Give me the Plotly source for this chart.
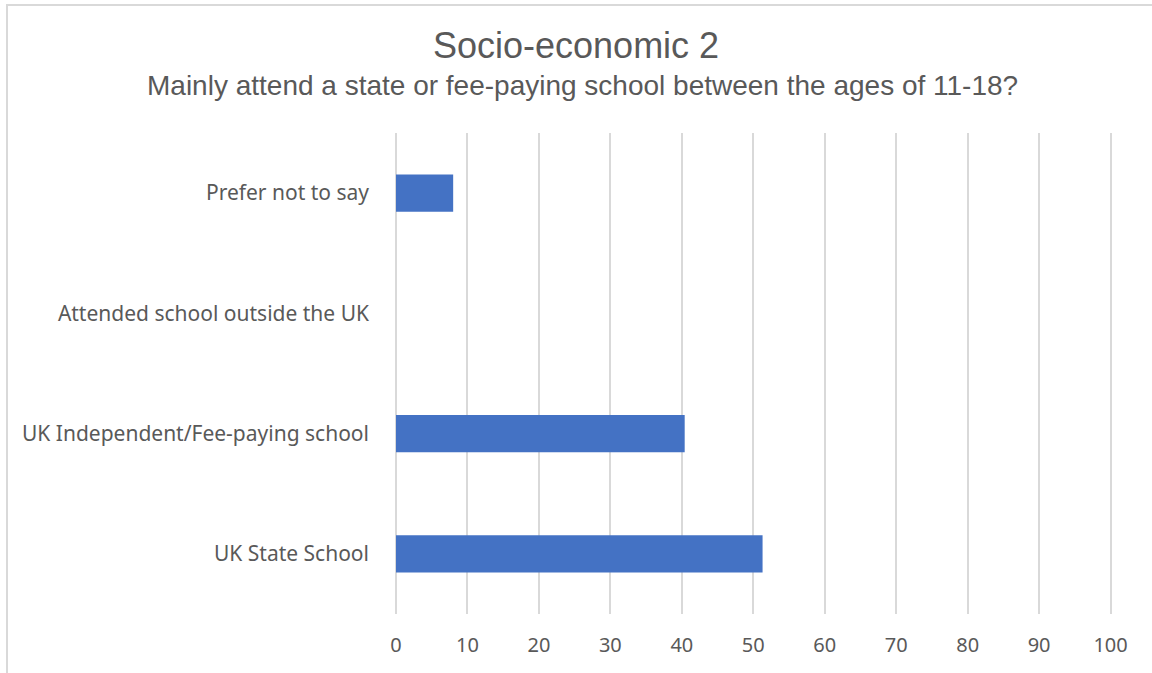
import plotly.graph_objects as go

categories = ["UK State School", "UK Independent/Fee-paying school",
              "Attended school outside the UK", "Prefer not to say"]
values = [51.3, 40.4, 0, 8.0]
tick_vals = [0, 10, 20, 30, 40, 50, 60, 70, 80, 90, 100]

W, H = 1152, 673
L, R, T, B = 396, 40, 133, 59
pw, ph = W - L - R, H - T - B

fig = go.Figure(go.Bar(
    x=values, y=categories, orientation="h",
    marker=dict(color="#4472C4", line=dict(width=0)),
    width=0.31,
))

fig.update_layout(
    width=W, height=H,
    margin=dict(l=L, r=R, t=T, b=B, autoexpand=False),
    paper_bgcolor="white", plot_bgcolor="white",
    showlegend=False,
    font=dict(family="Noto Sans", color="#595959"),
    xaxis=dict(range=[0, 100.2], tickvals=tick_vals, showgrid=True,
               gridcolor="#d9d9d9", gridwidth=2, zeroline=True,
               zerolinecolor="#d9d9d9", zerolinewidth=2,
               showline=False, ticks="", ticklabelstandoff=17,
               tickfont=dict(size=20, color="#595959", family="Noto Sans"),
               fixedrange=True),
    yaxis=dict(categoryorder="array", categoryarray=categories,
               showgrid=False, zeroline=False, showline=False, ticks="",
               ticklabelstandoff=26,
               tickfont=dict(size=21, color="#595959", family="Noto Sans"),
               fixedrange=True),
)

def px_x(p):
    return (p - L) / pw

def px_y(p):
    return (H - B - p) / ph

fig.add_shape(type="line", xref="paper", yref="paper",
              x0=px_x(6), x1=px_x(1160), y0=px_y(5), y1=px_y(5),
              line=dict(color="#d9d9d9", width=2))
fig.add_shape(type="line", xref="paper", yref="paper",
              x0=px_x(7), x1=px_x(7), y0=px_y(4), y1=px_y(680),
              line=dict(color="#d9d9d9", width=2))

fig.add_annotation(text="Socio-economic 2", xref="paper", yref="paper",
                   x=px_x(576), y=px_y(46), xanchor="center", yanchor="middle",
                   showarrow=False,
                   font=dict(family="Liberation Sans", size=36, color="#595959"))
fig.add_annotation(text="Mainly attend a state or fee-paying school between the ages of 11-18?",
                   xref="paper", yref="paper",
                   x=px_x(582.5), y=px_y(85), xanchor="center", yanchor="middle",
                   showarrow=False,
                   font=dict(family="Liberation Sans", size=28, color="#595959"))

fig.write_html("out.html", post_script="document.body.style.margin='0';",
               config={"displayModeBar": False})
